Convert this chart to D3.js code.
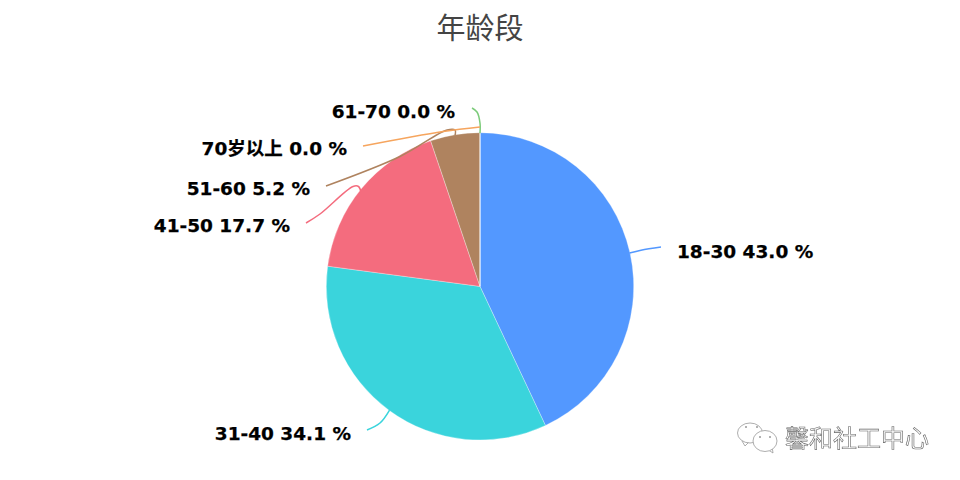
<!DOCTYPE html>
<html><head><meta charset="utf-8">
<script src="https://cdnjs.cloudflare.com/ajax/libs/d3/7.8.5/d3.min.js"></script>
<style>
html,body{margin:0;padding:0;background:#fff}
svg{display:block}
text{font-family:"DejaVu Sans","Noto Sans CJK SC",sans-serif}
</style></head><body>
<svg id="c" width="960" height="480">
<defs><filter id="soft" x="-5%" y="-5%" width="110%" height="110%"><feGaussianBlur stdDeviation="0.25"/></filter></defs>
</svg>
<script>
const titleText = "年龄段";
const categories = ["18-30","31-40","41-50","51-60","61-70","70岁以上"];
const percentages = [43.0,34.1,17.7,5.2,0.0,0.0];
const colors = ["#5398FF","#3AD4DC","#F46C7E","#AF835F","#7CCB7A","#F6A55E"];
const watermark = "馨和社工中心";

// layout, separate from the data: leader waypoints after the slice edge, and label anchor
const layout = [
  {via:[[641,250.2],[661,247]], lx:677, ly:258, a:"start"},
  {via:[[380,423],[367,430]], lx:351, ly:440, a:"end"},
  {via:[[358.5,186.5],[353,186.5],[320,214],[306,223]], lx:290, ly:232, a:"end", from:[361,192]},
  {via:[[455,130],[447,130],[400,156.5],[326,186]], lx:310, ly:195, a:"end"},
  {via:[[480,123],[477,112],[472,108]], lx:455, ly:118, a:"end"},
  {via:[[443,131.5],[363,146]], lx:347, ly:155, a:"end", from:[480,127]}
];

const svg = d3.select("#c");
const cx=480, cy=286.4, R=153.7;
const g = svg.append("g").attr("transform",`translate(${cx},${cy})`);
const pie = d3.pie().sort(null).value(d=>d);
const arcs = pie(percentages);
const arc = d3.arc().innerRadius(0).outerRadius(R);

g.selectAll("path.s").data(arcs).join("path").attr("class","s")
  .attr("d",arc).attr("fill",(d,i)=>colors[i])
  .attr("stroke","#fff").attr("stroke-width",0.3);

const mid = d=>(d.startAngle+d.endAngle)/2;
const polar = (a,r)=>[cx+r*Math.sin(a),cy-r*Math.cos(a)];
const curve = d3.line().curve(d3.curveCatmullRom.alpha(0.5));
svg.selectAll("path.l").data(arcs).join("path").attr("class","l")
  .attr("d",(d,i)=>{
    const L=layout[i];
    return curve([L.from||polar(mid(d),R-0.5),...L.via]);
  })
  .attr("fill","none").attr("stroke",(d,i)=>colors[i]).attr("stroke-width",1.5);

svg.selectAll("text.lab").data(arcs).join("text").attr("class","lab")
  .attr("x",(d,i)=>layout[i].lx).attr("y",(d,i)=>layout[i].ly)
  .attr("text-anchor",(d,i)=>layout[i].a)
  .attr("font-size",18.5).attr("font-weight","bold").attr("fill","#000")
  .attr("stroke","#000").attr("stroke-width",0.25)
  .text((d,i)=>`${categories[i]} ${percentages[i].toFixed(1)} %`);

svg.append("text").attr("x",480).attr("y",39).attr("text-anchor","middle")
  .attr("font-size",29).attr("fill","#444")
  .style("font-family",'"Noto Sans CJK SC",sans-serif').text(titleText);

// watermark
const wm = svg.append("g").attr("filter","url(#soft)");
const bubbles = wm.append("g").attr("fill","#fff").attr("stroke","#999").attr("stroke-width",0.8);
bubbles.append("path").attr("d","M742 441 L745 446 L749 442");
bubbles.append("ellipse").attr("cx",750).attr("cy",433).attr("rx",12.5).attr("ry",10);
bubbles.append("path").attr("d","M767 449 L773 453 L772 446");
bubbles.append("ellipse").attr("cx",765).attr("cy",441).attr("rx",12).attr("ry",10.5);
const eyes = wm.append("g").attr("fill","#999");
eyes.append("circle").attr("cx",746).attr("cy",427).attr("r",1);
eyes.append("circle").attr("cx",757).attr("cy",427).attr("r",1);
eyes.append("circle").attr("cx",760).attr("cy",437).attr("r",1);
eyes.append("circle").attr("cx",770).attr("cy",437).attr("r",1);
wm.append("text").attr("x",785).attr("y",447).attr("font-size",24)
  .attr("fill","#fff").attr("stroke","#666").attr("stroke-width",0.6)
  .style("font-family",'"Noto Sans CJK SC",sans-serif').text(watermark);
</script></body></html>
